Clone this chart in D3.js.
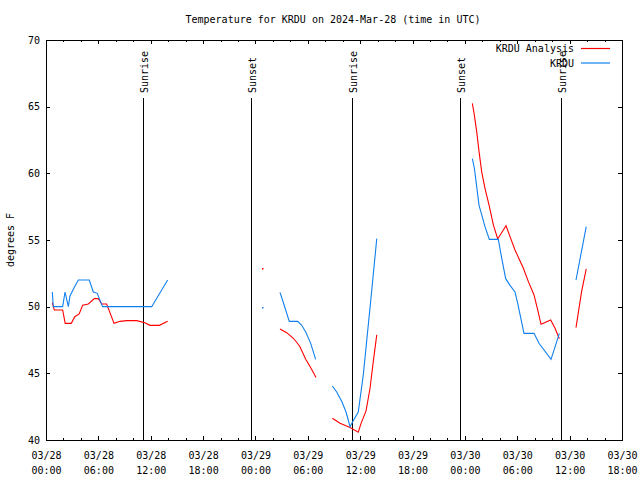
<!DOCTYPE html>
<html><head><meta charset="utf-8">
<script src="https://cdn.jsdelivr.net/npm/d3@7"></script>
<style>
body{margin:0;background:#fff}
svg{display:block}
text{font-family:"DejaVu Sans Mono","Liberation Mono",monospace;font-size:10px;fill:#000}
</style>
</head><body>
<svg id="c" width="640" height="480"></svg>
<script>
// hours since 2024-03-28 00:00 UTC; null marks a gap in the record
const obsHours = [0.72,0.84,1.91,2.18,2.56,2.75,3.13,3.7,4.96,5.42,5.88,6.11,6.49,12.11,13.94,null,
  24.79,null,
  26.81,27.1,27.39,27.88,28.84,29.3,29.76,30.33,30.9,null,
  32.81,33.31,33.88,34.38,34.84,35.2,35.78,36.36,36.74,37.2,37.9,null,
  48.85,49.08,49.35,49.62,49.92,50.3,50.8,51.83,52.14,52.67,53.17,53.74,54.05,54.77,55.92,56.49,57.87,58.82,null,
  60.73,61.9];
const obsTemps = [51.1,50.0,50.0,51.1,50.0,50.8,51.3,52.0,52.0,51.1,51.0,50.6,50.0,50.0,52.0,null,
  50.0,null,
  51.07,50.5,49.9,48.9,48.9,48.6,48.1,47.25,46.05,null,
  44.05,43.6,42.9,42.1,41.0,41.45,42.1,44.9,47.4,50.4,55.1,null,
  61.1,60.4,59.0,57.6,56.9,56.0,55.05,55.05,53.9,52.1,51.6,51.1,50.25,48.0,48.0,47.25,46.05,48.0,null,
  52.0,56.0];

const anaHours = [0.72,0.95,1.91,2.2,2.9,3.3,3.8,4.2,4.85,5.54,6.0,6.38,6.95,7.8,8.48,9.24,10.4,11.34,11.9,12.99,13.94,null,
  24.79,null,
  26.81,27.58,28.34,28.72,29.1,29.76,30.37,30.94,null,
  32.81,33.69,34.84,35.78,36.1,36.67,37.13,37.5,37.9,null,
  48.85,49.08,49.35,49.62,49.92,50.3,50.76,51.26,51.76,52.71,53.17,53.74,54.7,55.27,55.92,56.3,56.72,57.83,58.33,58.82,null,
  60.73,61.37,61.9];
const anaTemps = [50.3,49.75,49.75,48.75,48.75,49.25,49.45,50.1,50.2,50.6,50.6,50.2,50.2,48.75,48.9,48.95,48.95,48.8,48.6,48.6,48.9,null,
  52.9,null,
  48.33,48.05,47.63,47.33,47.0,46.05,45.38,44.68,null,
  41.63,41.25,40.93,40.58,41.25,42.18,43.88,45.88,47.88,null,
  65.25,64.38,63.13,61.63,60.13,58.88,57.63,56.13,55.08,56.07,55.25,54.25,52.88,51.88,50.88,49.88,48.68,49.0,48.38,47.6,null,
  48.43,51.13,52.83];

const sunHours = [11.1, 23.5, 35.05, 47.45, 59.0];
const sunLabels = ["Sunrise","Sunset","Sunrise","Sunset","Sunrise"];
const yTicks = [40,45,50,55,60,65,70];
const seriesNames = ["KRDU Analysis","KRDU"];
const seriesColors = ["#ff0000","#1080ee"];

const t0 = Date.UTC(2024,2,28,0,0);
const toDate = h => new Date(t0 + h*3600000);

const svg = d3.select("#c");
const L=46, R=622, T=40, B=440;
const x = d3.scaleUtc().domain([toDate(0), toDate(66)]).range([L,R]);
const y = d3.scaleLinear().domain([40,70]).range([B,T]);

// title
svg.append("text").attr("x",333).attr("y",23).attr("text-anchor","middle")
  .text("Temperature for KRDU on 2024-Mar-28 (time in UTC)");
// y label
svg.append("text").attr("transform","translate(14,240) rotate(-90)").attr("text-anchor","middle").text("degrees F");

// axes
const every6 = d3.utcHour.every(6), every2 = d3.utcHour.every(2);
const fmtD = d3.utcFormat("%m/%d"), fmtT = d3.utcFormat("%H:%M");
function clean(g){ g.select(".domain").remove(); g.selectAll(".tick line").attr("stroke","#000").attr("shape-rendering","crispEdges"); }

svg.append("g").attr("transform",`translate(0,${B})`)
  .call(d3.axisBottom(x).ticks(every2).tickSize(-2).tickFormat("")).call(clean).selectAll("text").remove();
svg.append("g").attr("transform",`translate(0,${T})`)
  .call(d3.axisTop(x).ticks(every2).tickSize(-2).tickFormat("")).call(clean).selectAll("text").remove();
svg.append("g").attr("transform",`translate(0,${T})`)
  .call(d3.axisTop(x).ticks(every6).tickSize(-4).tickFormat("")).call(clean).selectAll("text").remove();
const xb = svg.append("g").attr("transform",`translate(0,${B})`)
  .call(d3.axisBottom(x).ticks(every6).tickSize(-4).tickPadding(12).tickFormat(fmtD)).call(clean);
xb.selectAll(".tick text").each(function(d){
  const t = d3.select(this); t.text(null);
  t.append("tspan").attr("x",0).text(fmtD(d));
  t.append("tspan").attr("x",0).attr("dy",15).text(fmtT(d));
});
svg.append("g").attr("transform",`translate(${L},0)`)
  .call(d3.axisLeft(y).tickValues(yTicks).tickSize(-4).tickPadding(6)).call(clean);
svg.append("g").attr("transform",`translate(${R},0)`)
  .call(d3.axisRight(y).tickValues(yTicks).tickSize(-4).tickFormat("")).call(clean);
svg.selectAll("g").attr("font-size",null).attr("font-family",null);

// border
svg.append("rect").attr("x",L+0.5).attr("y",T+0.5).attr("width",R-L).attr("height",B-T)
  .attr("fill","none").attr("stroke","#000").attr("shape-rendering","crispEdges");

// sunrise / sunset
sunHours.forEach((h,i)=>{
  const lx = Math.round(x(toDate(h)))+0.5;
  svg.append("line").attr("x1",lx).attr("x2",lx).attr("y1",y(40)).attr("y2",y(65.65))
    .attr("stroke","#000").attr("stroke-width",1).attr("shape-rendering","crispEdges");
  svg.append("text").attr("transform",`translate(${lx+4},93) rotate(-90)`).text(sunLabels[i]);
});

// series
function draw(hours, temps, color){
  const pts = hours.map((h,i)=>({h, v: temps[i]}));
  const line = d3.line().defined(d=>d.v!=null && d.h!=null)
    .x(d=>x(toDate(d.h))).y(d=>y(d.v));
  svg.append("path").datum(pts).attr("d",line).attr("fill","none")
    .attr("stroke",color).attr("stroke-width",1.1);
  pts.forEach((d,i)=>{
    if(d.v==null) return;
    const p = pts[i-1], n = pts[i+1];
    if((!p||p.v==null) && (!n||n.v==null)){
      svg.append("rect").attr("x",Math.round(x(toDate(d.h)))).attr("y",Math.round(y(d.v)))
        .attr("width",1.5).attr("height",1.5).attr("fill",color);
    }
  });
}
draw(anaHours, anaTemps, seriesColors[0]);
draw(obsHours, obsTemps, seriesColors[1]);

// legend
seriesNames.forEach((s,i)=>{
  const ly = 48.5 + i*14.5;
  svg.append("text").attr("x",574).attr("y",ly+3.5).attr("text-anchor","end").text(s);
  svg.append("line").attr("x1",581).attr("x2",610).attr("y1",ly).attr("y2",ly)
    .attr("stroke",seriesColors[i]).attr("stroke-width",1.2);
});
</script>
</body></html>
